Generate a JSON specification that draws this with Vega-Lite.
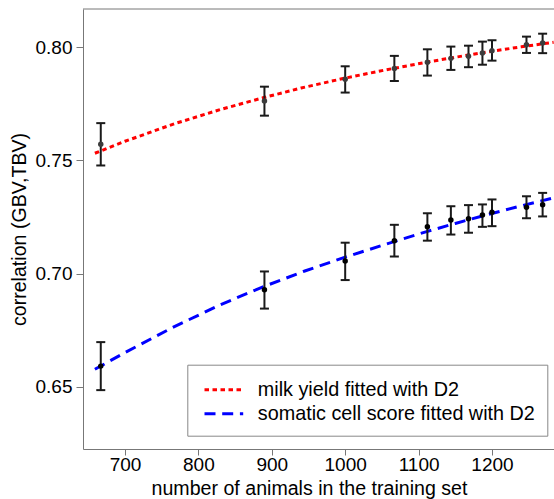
{
  "$schema": "https://vega.github.io/schema/vega-lite/v6.json",
  "width": 471,
  "height": 440,
  "autosize": {"type": "none"},
  "padding": {"left": 83, "top": 9, "right": 0, "bottom": 50},
  "background": "white",
  "config": {
    "view": {"stroke": null},
    "font": "Liberation Sans",
    "legend": {
      "padding": 11.5,
      "rowPadding": -0.6,
      "labelFontSize": 19.8,
      "labelColor": "black",
      "labelLimit": 0,
      "labelOffset": 32,
      "symbolSize": 576,
      "symbolStrokeWidth": 3,
      "symbolType": "M-0.65,0H2.575",
      "strokeColor": "#888888",
      "fillColor": "white",
      "cornerRadius": 0
    }
  },
  "datasets": {
    "pts": [
      {"series": "milk yield fitted with D2", "n": 667, "r": 0.7572, "lo": 0.7478, "hi": 0.7665},
      {"series": "milk yield fitted with D2", "n": 890, "r": 0.7763, "lo": 0.7698, "hi": 0.7826},
      {"series": "milk yield fitted with D2", "n": 1000, "r": 0.7859, "lo": 0.7800, "hi": 0.7916},
      {"series": "milk yield fitted with D2", "n": 1067, "r": 0.7906, "lo": 0.7851, "hi": 0.7962},
      {"series": "milk yield fitted with D2", "n": 1112, "r": 0.7934, "lo": 0.7875, "hi": 0.7991},
      {"series": "milk yield fitted with D2", "n": 1144, "r": 0.7951, "lo": 0.7900, "hi": 0.8003},
      {"series": "milk yield fitted with D2", "n": 1168, "r": 0.7960, "lo": 0.7912, "hi": 0.8007},
      {"series": "milk yield fitted with D2", "n": 1187, "r": 0.7975, "lo": 0.7923, "hi": 0.8025},
      {"series": "milk yield fitted with D2", "n": 1200, "r": 0.7985, "lo": 0.7941, "hi": 0.8031},
      {"series": "milk yield fitted with D2", "n": 1247, "r": 0.8011, "lo": 0.7975, "hi": 0.8047},
      {"series": "milk yield fitted with D2", "n": 1269, "r": 0.8019, "lo": 0.7974, "hi": 0.8060},
      {"series": "somatic cell score fitted with D2", "n": 667, "r": 0.6592, "lo": 0.6486, "hi": 0.6698},
      {"series": "somatic cell score fitted with D2", "n": 890, "r": 0.6929, "lo": 0.6846, "hi": 0.7010},
      {"series": "somatic cell score fitted with D2", "n": 1000, "r": 0.7056, "lo": 0.6972, "hi": 0.7137},
      {"series": "somatic cell score fitted with D2", "n": 1067, "r": 0.7146, "lo": 0.7076, "hi": 0.7216},
      {"series": "somatic cell score fitted with D2", "n": 1112, "r": 0.7207, "lo": 0.7146, "hi": 0.7267},
      {"series": "somatic cell score fitted with D2", "n": 1144, "r": 0.7237, "lo": 0.7173, "hi": 0.7298},
      {"series": "somatic cell score fitted with D2", "n": 1168, "r": 0.7243, "lo": 0.7181, "hi": 0.7303},
      {"series": "somatic cell score fitted with D2", "n": 1187, "r": 0.7259, "lo": 0.7207, "hi": 0.7306},
      {"series": "somatic cell score fitted with D2", "n": 1200, "r": 0.7272, "lo": 0.7210, "hi": 0.7328},
      {"series": "somatic cell score fitted with D2", "n": 1247, "r": 0.7294, "lo": 0.7245, "hi": 0.7342},
      {"series": "somatic cell score fitted with D2", "n": 1269, "r": 0.7305, "lo": 0.7253, "hi": 0.7357}
    ],
    "fit": [
      {"series": "milk yield fitted with D2", "n": 659, "r": 0.7532},
      {"series": "milk yield fitted with D2", "n": 700, "r": 0.7585},
      {"series": "milk yield fitted with D2", "n": 768, "r": 0.7663},
      {"series": "milk yield fitted with D2", "n": 830, "r": 0.7725},
      {"series": "milk yield fitted with D2", "n": 888, "r": 0.7777},
      {"series": "milk yield fitted with D2", "n": 940, "r": 0.7820},
      {"series": "milk yield fitted with D2", "n": 1000, "r": 0.7864},
      {"series": "milk yield fitted with D2", "n": 1055, "r": 0.7900},
      {"series": "milk yield fitted with D2", "n": 1111, "r": 0.7934},
      {"series": "milk yield fitted with D2", "n": 1150, "r": 0.7956},
      {"series": "milk yield fitted with D2", "n": 1189, "r": 0.7977},
      {"series": "milk yield fitted with D2", "n": 1240, "r": 0.8002},
      {"series": "milk yield fitted with D2", "n": 1284, "r": 0.8022},
      {"series": "somatic cell score fitted with D2", "n": 659, "r": 0.6578},
      {"series": "somatic cell score fitted with D2", "n": 700, "r": 0.6652},
      {"series": "somatic cell score fitted with D2", "n": 765, "r": 0.6763},
      {"series": "somatic cell score fitted with D2", "n": 830, "r": 0.6863},
      {"series": "somatic cell score fitted with D2", "n": 888, "r": 0.6942},
      {"series": "somatic cell score fitted with D2", "n": 945, "r": 0.7012},
      {"series": "somatic cell score fitted with D2", "n": 1000, "r": 0.7073},
      {"series": "somatic cell score fitted with D2", "n": 1055, "r": 0.7130},
      {"series": "somatic cell score fitted with D2", "n": 1111, "r": 0.7186},
      {"series": "somatic cell score fitted with D2", "n": 1150, "r": 0.7222},
      {"series": "somatic cell score fitted with D2", "n": 1189, "r": 0.7257},
      {"series": "somatic cell score fitted with D2", "n": 1240, "r": 0.7300},
      {"series": "somatic cell score fitted with D2", "n": 1284, "r": 0.7335}
    ]
  },
  "layer": [
    {
      "data": {"name": "fit"},
      "mark": {"type": "line", "strokeWidth": 3, "clip": true},
      "encoding": {
        "x": {
          "field": "n", "type": "quantitative",
          "title": "number of animals in the training set",
          "scale": {"domain": [642.8, 1284.5], "nice": false, "zero": false},
          "axis": {
            "values": [700, 800, 900, 1000, 1100, 1200],
            "format": "d",
            "grid": false,
            "labelFontSize": 19,
            "labelColor": "black",
            "titleFontSize": 19.6,
            "titleFontWeight": "normal",
            "titleColor": "black",
            "tickSize": 6,
            "labelPadding": 0,
            "domainColor": "#777777",
            "tickColor": "#777777",
            "titleX": 226,
            "titleY": 45,
            "titleBaseline": "alphabetic"
          }
        },
        "y": {
          "field": "r", "type": "quantitative",
          "title": "correlation (GBV,TBV)",
          "scale": {"domain": [0.6226, 0.8169], "nice": false, "zero": false},
          "axis": {
            "values": [0.65, 0.7, 0.75, 0.8],
            "format": ".2f",
            "grid": false,
            "labelFontSize": 19,
            "labelColor": "black",
            "titleFontSize": 19.6,
            "titleFontWeight": "normal",
            "titleColor": "black",
            "tickSize": 7,
            "labelPadding": 4,
            "domainColor": "#777777",
            "tickColor": "#777777",
            "titleX": -58,
            "titleBaseline": "alphabetic"
          }
        },
        "color": {
          "field": "series", "type": "nominal",
          "scale": {"domain": ["milk yield fitted with D2", "somatic cell score fitted with D2"], "range": ["#ff0000", "#0000ff"]},
          "legend": {"orient": "none", "legendX": 104.3, "legendY": 355.7, "title": null}
        },
        "strokeDash": {
          "field": "series", "type": "nominal",
          "scale": {"domain": ["milk yield fitted with D2", "somatic cell score fitted with D2"], "range": [[4.5, 3.5], [11, 6.7]]},
          "legend": {"orient": "none", "legendX": 104.3, "legendY": 355.7, "title": null}
        }
      }
    },
    {
      "data": {"values": [{}]},
      "mark": {"type": "rule", "color": "#777777", "strokeWidth": 1},
      "encoding": {
        "y": {"datum": 0.8169, "type": "quantitative", "title": "correlation (GBV,TBV)", "scale": {"domain": [0.6226, 0.8169], "nice": false, "zero": false}}
      }
    },
    {
      "data": {"name": "pts"},
      "mark": {"type": "errorbar", "color": "#1a1a1a", "opacity": 1, "thickness": 2, "ticks": {"size": 9, "thickness": 2, "color": "#1a1a1a", "opacity": 1}},
      "encoding": {
        "x": {"field": "n", "type": "quantitative", "title": "number of animals in the training set", "scale": {"domain": [642.8, 1284.5], "nice": false, "zero": false}},
        "y": {"field": "lo", "type": "quantitative", "title": "correlation (GBV,TBV)", "scale": {"domain": [0.6226, 0.8169], "nice": false, "zero": false}},
        "y2": {"field": "hi"}
      }
    },
    {
      "data": {"name": "pts"},
      "mark": {"type": "point", "filled": true, "size": 30, "opacity": 1},
      "encoding": {
        "x": {"field": "n", "type": "quantitative", "title": "number of animals in the training set", "scale": {"domain": [642.8, 1284.5], "nice": false, "zero": false}},
        "y": {"field": "r", "type": "quantitative", "title": "correlation (GBV,TBV)", "scale": {"domain": [0.6226, 0.8169], "nice": false, "zero": false}},
        "fill": {
          "field": "series", "type": "nominal",
          "scale": {"domain": ["milk yield fitted with D2", "somatic cell score fitted with D2"], "range": ["#3c3c3c", "#000000"]},
          "legend": null
        }
      }
    }
  ]
}
